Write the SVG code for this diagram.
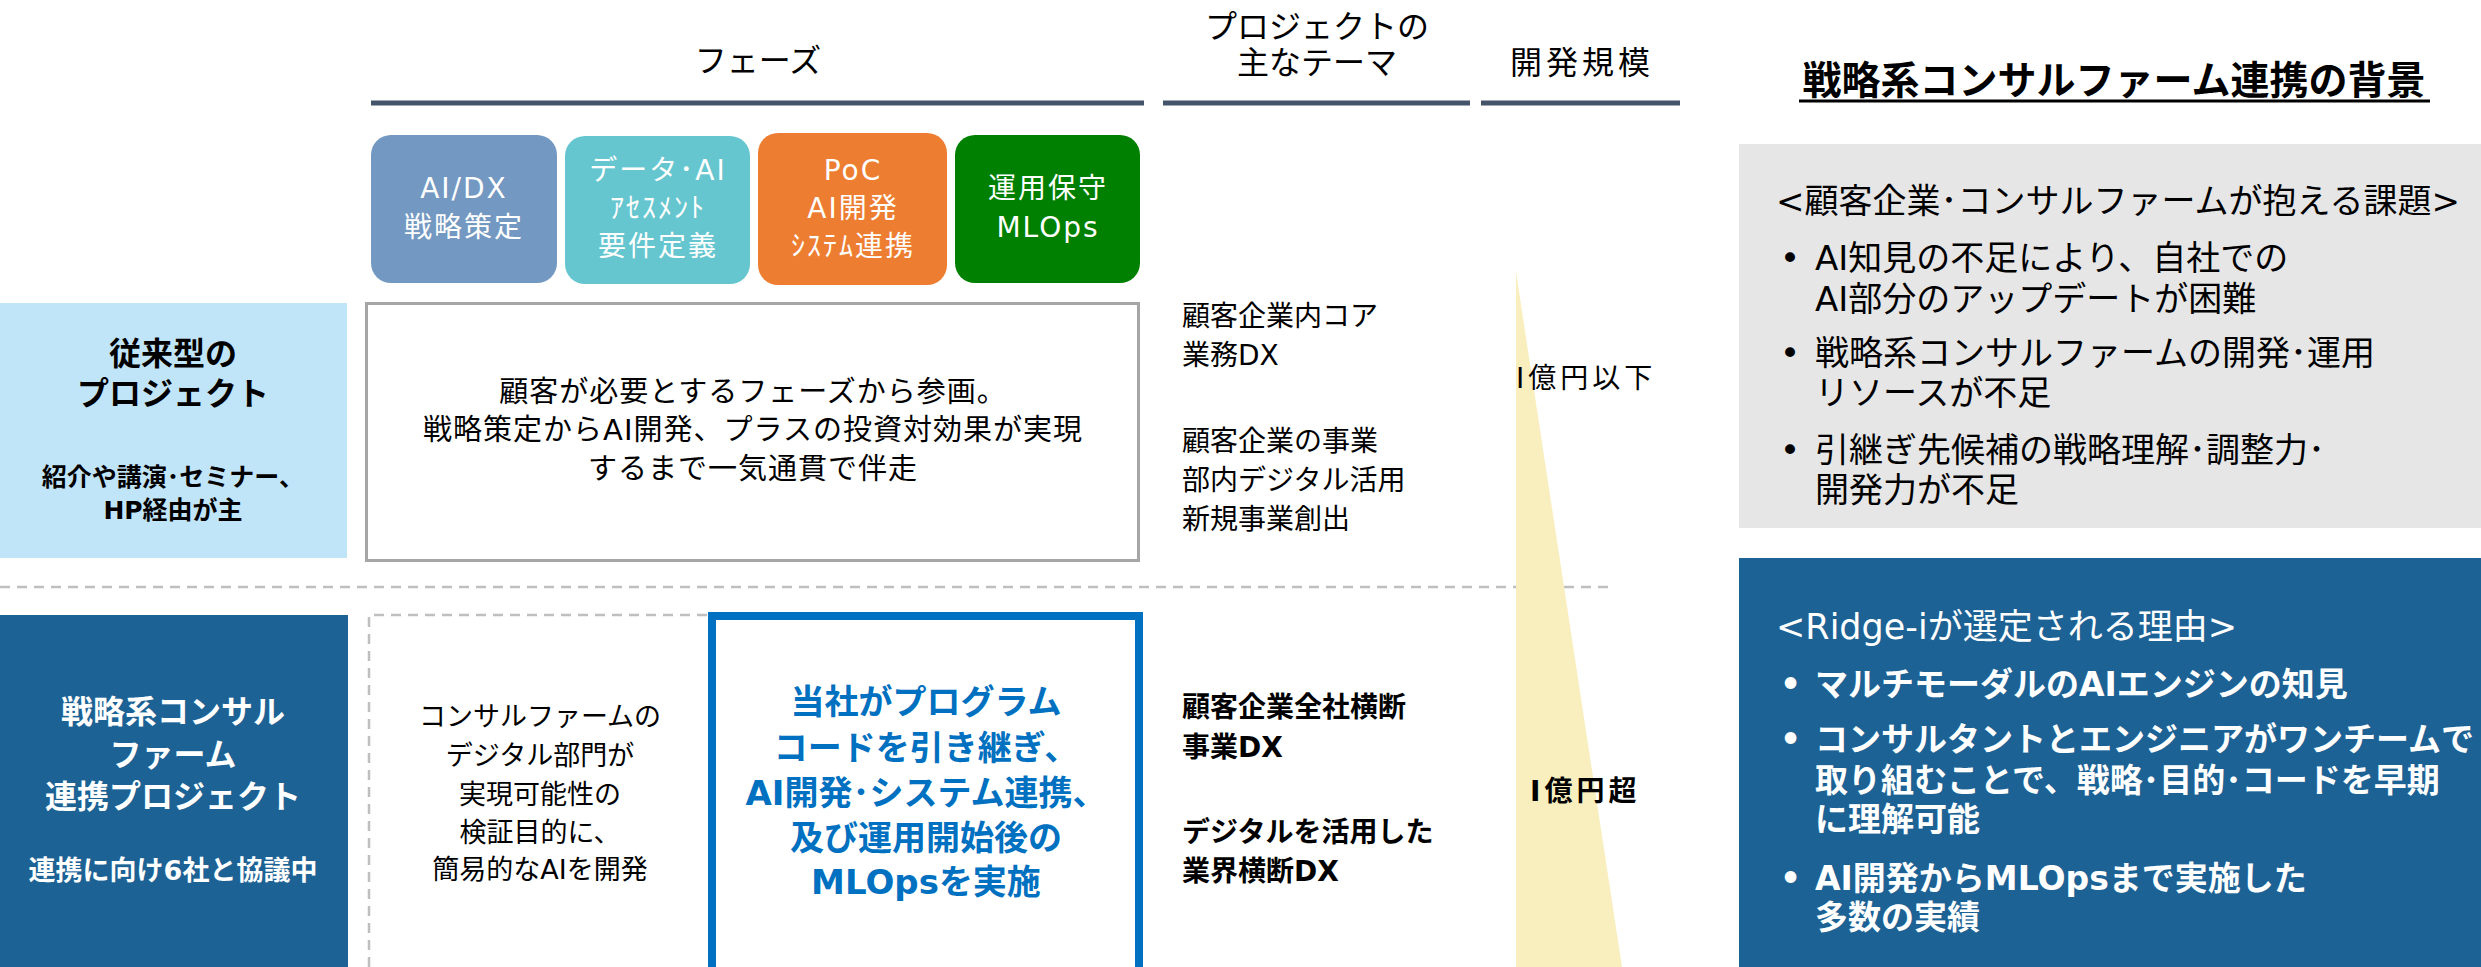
<svg xmlns="http://www.w3.org/2000/svg" width="2481" height="967" viewBox="0 0 2481 967">
<style>
text{font-family:"DejaVu Sans","Noto Sans CJK JP",sans-serif;dominant-baseline:central;fill:#000}
.c{text-anchor:middle}
.b{font-weight:700}
.w{fill:#fff}
.h{font-size:32px}
.ph{font-size:28px;fill:#fff;text-anchor:middle;letter-spacing:2px}
.rule{stroke:#44546A;stroke-width:5}
.dash{stroke:#BFBFBF;stroke-width:2.5;stroke-dasharray:10 7;fill:none}
</style>
<rect width="2481" height="967" fill="#fff"/>

<g id="rules">
<line class="rule" x1="371" y1="103" x2="1144" y2="103"/>
<line class="rule" x1="1163" y1="103" x2="1470" y2="103"/>
<line class="rule" x1="1481" y1="103" x2="1680" y2="103"/>
<line class="dash" x1="0" y1="587" x2="1615" y2="587"/>
</g>

<g id="headers">
<text class="h c" x="758" y="61">フェーズ</text>
<text class="h c" x="1317" y="27">プロジェクトの</text>
<text class="h c" x="1317" y="63">主なテーマ</text>
<text class="h c" x="1582" y="63" style="letter-spacing:4px">開発規模</text>
</g>

<g id="title">
<text class="c b" x="2114" y="80" style="font-size:39px">戦略系コンサルファーム連携の背景</text>
<line x1="1799" y1="101" x2="2430" y2="101" stroke="#000" stroke-width="3"/>
</g>

<g id="phase-aidx">
<rect x="371" y="135" width="186" height="148" rx="20" fill="#7398C1"/>
<text class="ph" x="464" y="188">AI/DX</text>
<text class="ph" x="464" y="227">戦略策定</text>
</g>
<g id="phase-assess">
<rect x="565" y="136" width="185" height="148" rx="20" fill="#66C6CF"/>
<text class="ph" x="658" y="170">データ･AI</text>
<text class="ph" x="658" y="208">ｱｾｽﾒﾝﾄ</text>
<text class="ph" x="658" y="246">要件定義</text>
</g>
<g id="phase-poc">
<rect x="758" y="133" width="189" height="152" rx="20" fill="#ED7D31"/>
<text class="ph" x="853" y="170">PoC</text>
<text class="ph" x="853" y="208">AI開発</text>
<text class="ph" x="853" y="246">ｼｽﾃﾑ連携</text>
</g>
<g id="phase-ops">
<rect x="955" y="135" width="185" height="148" rx="20" fill="#008000"/>
<text class="ph" x="1048" y="188">運用保守</text>
<text class="ph" x="1048" y="227">MLOps</text>
</g>

<g id="scale-triangle">
<polygon points="1516,272 1516,967 1622,967" fill="#F9EEBE"/>
</g>

<g id="row-traditional">
<rect x="0" y="303" width="347" height="255" fill="#C0E4F8"/>
<text class="c b" x="173" y="354" style="font-size:32px">従来型の</text>
<text class="c b" x="173" y="394" style="font-size:32px">プロジェクト</text>
<text class="c b" x="173" y="477" style="font-size:25px">紹介や講演･セミナー、</text>
<text class="c b" x="173" y="510" style="font-size:25px">HP経由が主</text>
</g>

<g id="traditional-desc">
<rect x="366.5" y="303.5" width="772" height="257" fill="#fff" stroke="#A6A6A6" stroke-width="3"/>
<text class="c" x="753" y="392" style="font-size:29px;letter-spacing:1px">顧客が必要とするフェーズから参画。</text>
<text class="c" x="753" y="430" style="font-size:29px;letter-spacing:1px">戦略策定からAI開発、プラスの投資対効果が実現</text>
<text class="c" x="753" y="469" style="font-size:29px;letter-spacing:1px">するまで一気通貫で伴走</text>
</g>

<g id="traditional-theme" style="font-size:28px">
<text x="1182" y="316">顧客企業内コア</text>
<text x="1182" y="355">業務DX</text>
<text x="1182" y="441">顧客企業の事業</text>
<text x="1182" y="480">部内デジタル活用</text>
<text x="1182" y="519">新規事業創出</text>
</g>

<g id="traditional-scale">
<text x="1516" y="378" style="font-size:28px;letter-spacing:4px">I億円以下</text>
</g>

<g id="row-consul">
<rect x="0" y="615" width="348" height="360" fill="#1D6295"/>
<text class="c b w" x="173" y="712" style="font-size:32px">戦略系コンサル</text>
<text class="c b w" x="173" y="755" style="font-size:32px">ファーム</text>
<text class="c b w" x="173" y="797" style="font-size:32px">連携プロジェクト</text>
<text class="c b w" x="173" y="870" style="font-size:27px">連携に向け6社と協議中</text>
</g>

<g id="consul-firm">
<path class="dash" d="M369,967 V615 H708"/>
<text class="c" x="540" y="716" style="font-size:27px">コンサルファームの</text>
<text class="c" x="540" y="755" style="font-size:27px">デジタル部門が</text>
<text class="c" x="540" y="794" style="font-size:27px">実現可能性の</text>
<text class="c" x="540" y="832" style="font-size:27px">検証目的に、</text>
<text class="c" x="540" y="869" style="font-size:27px">簡易的なAIを開発</text>
</g>

<g id="our-role">
<rect x="712" y="616" width="427" height="370" fill="#fff" stroke="#0070C0" stroke-width="8"/>
<g style="font-size:34px">
<text class="c b" x="926" y="702" style="fill:#0070C0">当社がプログラム</text>
<text class="c b" x="926" y="748" style="fill:#0070C0">コードを引き継ぎ、</text>
<text class="c b" x="926" y="793" style="fill:#0070C0">AI開発･システム連携、</text>
<text class="c b" x="926" y="838" style="fill:#0070C0">及び運用開始後の</text>
<text class="c b" x="926" y="882" style="fill:#0070C0">MLOpsを実施</text>
</g>
</g>

<g id="consul-theme" style="font-size:28px">
<text class="b" x="1182" y="707">顧客企業全社横断</text>
<text class="b" x="1182" y="747">事業DX</text>
<text class="b" x="1182" y="832">デジタルを活用した</text>
<text class="b" x="1182" y="871">業界横断DX</text>
</g>

<g id="consul-scale">
<text class="b" x="1530" y="791" style="font-size:28px;letter-spacing:4px">I億円超</text>
</g>

<g id="issues">
<rect x="1739" y="144" width="742" height="384" fill="#E6E6E6"/>
<text x="1776" y="201" style="font-size:34px">&lt;顧客企業･コンサルファームが抱える課題&gt;</text>
<g style="font-size:34px">
<text x="1780" y="258">•</text>
<text x="1815" y="258">AI知見の不足により、自社での</text>
<text x="1815" y="299">AI部分のアップデートが困難</text>
<text x="1780" y="353">•</text>
<text x="1815" y="353">戦略系コンサルファームの開発･運用</text>
<text x="1815" y="393">リソースが不足</text>
<text x="1780" y="450">•</text>
<text x="1815" y="450">引継ぎ先候補の戦略理解･調整力･</text>
<text x="1815" y="490">開発力が不足</text>
</g>
</g>

<g id="reasons">
<rect x="1739" y="558" width="742" height="409" fill="#1D6295"/>
<text class="w" x="1776" y="627" style="font-size:35px">&lt;Ridge-iが選定される理由&gt;</text>
<g style="font-size:33px">
<text class="w b" x="1780" y="684">•</text>
<text class="w b" x="1815" y="684">マルチモーダルのAIエンジンの知見</text>
<text class="w b" x="1780" y="739">•</text>
<text class="w b" x="1815" y="739">コンサルタントとエンジニアがワンチームで</text>
<text class="w b" x="1815" y="780">取り組むことで、戦略･目的･コードを早期</text>
<text class="w b" x="1815" y="819">に理解可能</text>
<text class="w b" x="1780" y="878">•</text>
<text class="w b" x="1815" y="878">AI開発からMLOpsまで実施した</text>
<text class="w b" x="1815" y="917">多数の実績</text>
</g>
</g>
</svg>
